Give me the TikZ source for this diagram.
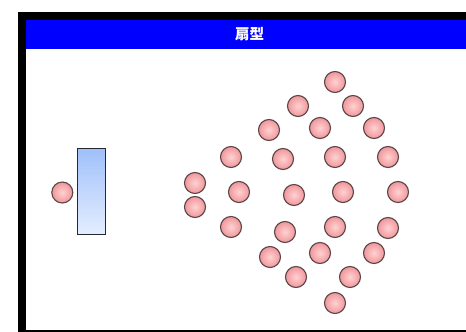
\documentclass[tikz,border=0pt]{standalone}
\usepackage{fontspec}
\newfontfamily\cjk{Noto Sans CJK JP}
\definecolor{barblue}{RGB}{0,0,255}
\definecolor{pline}{RGB}{90,70,70}
\definecolor{pin}{RGB}{255,210,210}
\definecolor{pout}{RGB}{240,150,155}
\definecolor{bline}{RGB}{40,40,50}
\definecolor{btop}{RGB}{160,192,250}
\definecolor{bbot}{RGB}{228,238,255}
\begin{document}
\begin{tikzpicture}[x=1pt,y=-1pt,
  person/.style={circle,minimum size=21pt,inner sep=0pt,draw=pline,line width=1.1pt,
    inner color=pin,outer color=pout},
  board/.style={rectangle,draw=bline,line width=0.9pt,minimum width=28pt,minimum height=86pt,inner sep=0pt,
    top color=btop,bottom color=bbot}]
\useasboundingbox (0,0) rectangle (466,332);
\fill[white] (0,0) rectangle (466,332);
\fill[black] (18,12) rectangle (466,332);
\fill[white] (26,20) rectangle (466,329.5);
\fill[barblue] (26,20) rectangle (466,49);
\node[text=white,inner sep=0pt,font=\cjk\bfseries\fontsize{14.5}{16}\selectfont] (title) at (249.5,34) {扇型};
\node[board] (board) at (91,191.5) {};
\node[person] (t) at (62.3,192.5) {};
\foreach \n/\x/\y in {a1/335/82, a2/298/106, a3/353/106, a4/269/130, a5/320/128, a6/374/128,
  a7/231/157, a8/283/159, a9/335/157, a10/388/157, a11/195/183, a12/239/192, a13/294/195,
  a14/343/192, a15/398/192, a16/195/207, a17/231/227, a18/285/232, a19/335/227, a20/388/228,
  a21/270/257, a22/320/253, a23/374/253, a24/296/277, a25/350/277, a26/335/303}
  \node[person] (\n) at (\x,\y) {};
\end{tikzpicture}
\end{document}
